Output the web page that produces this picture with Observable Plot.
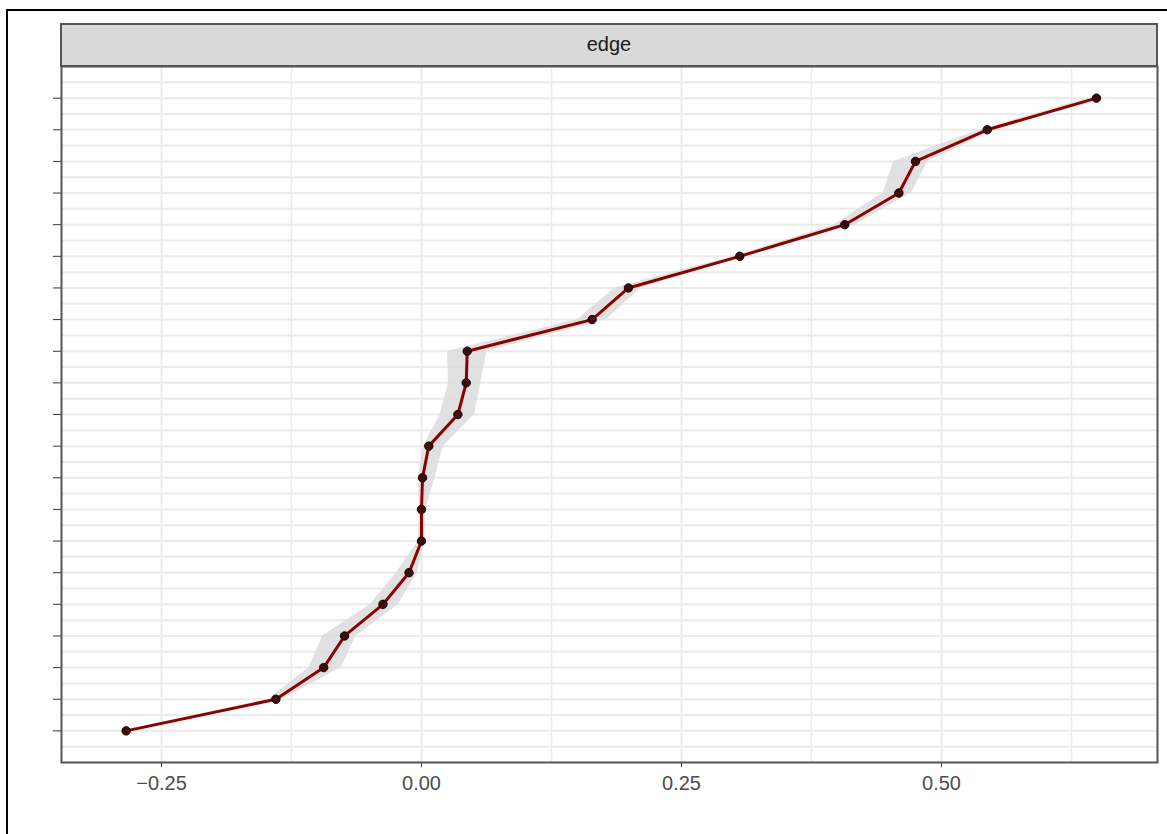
<!DOCTYPE html>
<html>
<head>
<meta charset="utf-8">
<script src="https://cdn.jsdelivr.net/npm/d3@7"></script>
<script src="https://cdn.jsdelivr.net/npm/@observablehq/plot@0.6"></script>
<style>
  html, body { margin: 0; padding: 0; background: #fff; }
  #wrap { position: relative; width: 1167px; height: 834px; overflow: hidden; }
  #frame { position: absolute; left: 6px; top: 9px; width: 1180px; height: 850px; border: 2px solid #000; box-sizing: border-box; pointer-events: none; }
  svg { display: block; }
</style>
</head>
<body>
<div id="wrap"><div id="chart"></div><div id="frame"></div></div>
<script>
// ---- data ----
const facetLabel = "edge";
const rank = [1,2,3,4,5,6,7,8,9,10,11,12,13,14,15,16,17,18,19,20,21];
const estimate = [-0.284, -0.140, -0.094, -0.074, -0.037, -0.012, 0.000, 0.000, 0.001, 0.007, 0.035, 0.043, 0.044, 0.164, 0.199, 0.306, 0.407, 0.459, 0.475, 0.544, 0.649];
const lower = [-0.287, -0.147, -0.108, -0.095, -0.049, -0.024, -0.003, -0.002, -0.003, 0.002, 0.018, 0.026, 0.025, 0.150, 0.186, 0.300, 0.397, 0.444, 0.454, 0.537, 0.641];
const upper = [-0.281, -0.134, -0.077, -0.063, -0.022, -0.004, 0.003, 0.004, 0.013, 0.021, 0.051, 0.057, 0.063, 0.178, 0.211, 0.311, 0.417, 0.471, 0.487, 0.551, 0.659];
const xTicks = [-0.25, 0, 0.25, 0.5];
const xMinor = [-0.125, 0.125, 0.375, 0.625];

const data = rank.map((r, i) => ({y: r, x: estimate[i], lo: lower[i], hi: upper[i]}));
const yTicks = rank;
const yGrid = d3.range(0.5, 22, 0.5);

const W = 1167, H = 834;
const mL = 61, mR = W - 1157, mT = 66, mB = H - 762;

const chart = Plot.plot({
  width: W,
  height: H,
  marginLeft: mL,
  marginRight: mR,
  marginTop: mT,
  marginBottom: mB,
  style: {fontFamily: "'Liberation Sans', Arial, sans-serif", fontSize: "20px", background: "transparent", overflow: "visible"},
  x: {domain: [-0.34615, 0.7077], label: null},
  y: {domain: [0, 22], label: null},
  marks: [
    Plot.ruleX(xMinor, {stroke: "#EBEBEB", strokeWidth: 1.5, strokeOpacity: 1}),
    Plot.ruleX(xTicks, {stroke: "#EBEBEB", strokeWidth: 2, strokeOpacity: 1}),
    Plot.ruleY(yGrid, {stroke: "#EBEBEB", strokeWidth: 2, strokeOpacity: 1}),
    Plot.areaX(data, {y: "y", x1: "lo", x2: "hi", fill: "#DCDCDC", fillOpacity: 0.85}),
    Plot.line(data, {x: "x", y: "y", stroke: "#8B0000", strokeWidth: 3}),
    Plot.dot(data, {x: "x", y: "y", r: 4.2, fill: "#3a0c0c", stroke: "#1a0000", strokeWidth: 1}),
    Plot.axisX(xTicks, {tickFormat: d3.format(".2f"), tickSize: 5, tickPadding: 8, stroke: "#333", fill: "#4D4D4D", fontSize: 20, label: null}),
    Plot.axisY(yTicks, {tickFormat: () => "", tickSize: 8, stroke: "#333", label: null}),
    Plot.frame({stroke: "#555", strokeWidth: 2})
  ]
});

// facet strip above the panel
const svg = d3.select(chart);
const strip = svg.append("g");
strip.append("rect")
  .attr("x", mL).attr("y", 24)
  .attr("width", W - mR - mL).attr("height", mT - 24)
  .attr("fill", "#D9D9D9").attr("stroke", "#555").attr("stroke-width", 2);
strip.append("text")
  .attr("x", (mL + W - mR) / 2).attr("y", 46)
  .attr("text-anchor", "middle").attr("dominant-baseline", "middle")
  .attr("fill", "#1A1A1A").attr("font-size", 20)
  .text(facetLabel);

document.getElementById("chart").appendChild(chart);
</script>
</body>
</html>
